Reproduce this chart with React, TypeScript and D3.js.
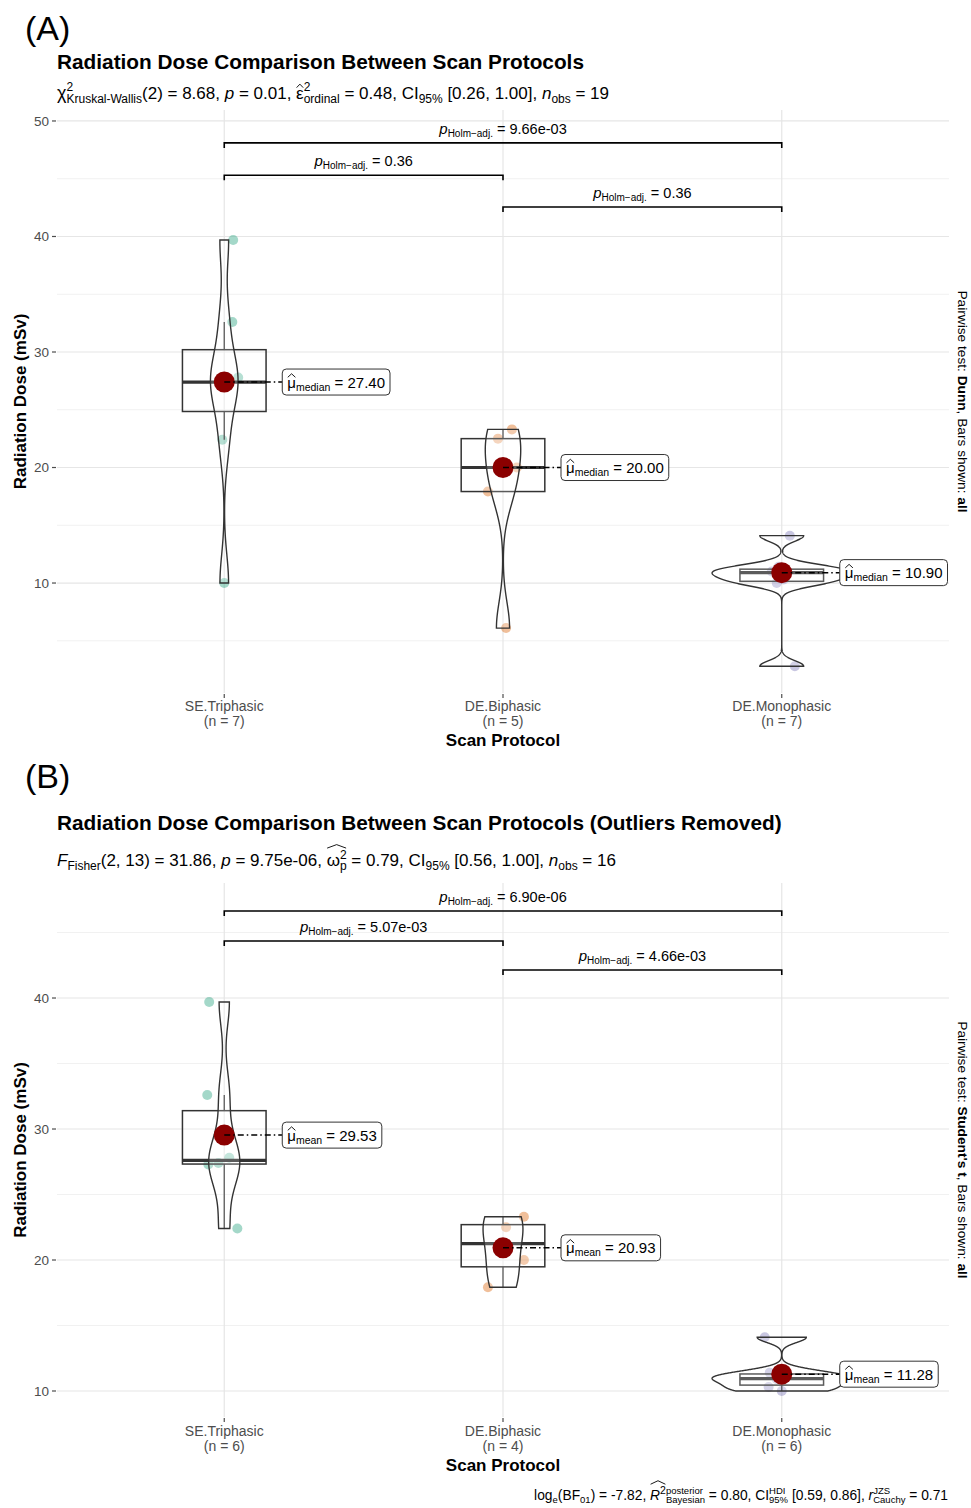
import { useEffect, useRef } from "react";
import * as d3 from "d3";

const FONT = '"Liberation Sans", Arial, Helvetica, sans-serif';

const categories = ["SE.Triphasic", "DE.Biphasic", "DE.Monophasic"];
const pointColors = ["#1B9E77", "#D95F02", "#7570B3"];

// (A) all scans, radiation dose in mSv
const seTriphasicA = [10.0, 22.4, 27.3, 27.4, 27.8, 32.6, 39.7];
const deBiphasicA = [6.1, 17.92, 20.0, 22.5, 23.3];
const deMonophasicA = [2.8, 10.0, 10.3, 10.9, 11.0, 11.4, 14.1];
// jitter of each point, as a fraction of the category spacing
const seJitterA = [0, -0.007, -0.014, 0.011, 0.05, 0.029, 0.032];
const biJitterA = [0.011, -0.054, 0.05, -0.018, 0.032];
const monoJitterA = [0.047, -0.018, 0.007, 0.021, -0.036, -0.011, 0.029];

// (B) outliers removed
const seTriphasicB = [22.4, 27.3, 27.4, 27.8, 32.6, 39.7];
const deBiphasicB = [17.92, 20.0, 22.5, 23.3];
const deMonophasicB = [10.0, 10.3, 10.9, 11.0, 11.4, 14.1];
const seJitterB = [0.047, -0.057, -0.021, 0.018, -0.061, -0.054];
const biJitterB = [-0.054, 0.075, 0.011, 0.075];
const monoJitterB = [0, -0.047, -0.018, 0.014, -0.043, -0.061];

const yTicksA = [10, 20, 30, 40, 50];
const yMinorA = [5, 15, 25, 35, 45];
const yTicksB = [10, 20, 30, 40];
const yMinorB = [15, 25, 35, 45];

// pairwise comparisons: category indices, bracket height (mSv), adjusted p
const pairsA = [
  { from: 0, to: 1, y: 45.3, p: "0.36" },
  { from: 1, to: 2, y: 42.55, p: "0.36" },
  { from: 0, to: 2, y: 48.1, p: "9.66e-03" },
];
const pairsB = [
  { from: 0, to: 1, y: 44.35, p: "5.07e-03" },
  { from: 1, to: 2, y: 42.14, p: "4.66e-03" },
  { from: 0, to: 2, y: 46.64, p: "6.90e-06" },
];

type Part = {
  t: string;
  size: number;
  dy?: number;
  italic?: boolean;
  bold?: boolean;
  stack?: boolean;
  hatStart?: boolean;
  hatEnd?: boolean;
  lower?: boolean;
};

type Sel = d3.Selection<any, unknown, null, undefined>;

// lays out a line of mixed-size text, returns the group and its width
function rich(
  parent: Sel,
  x: number,
  y: number,
  parts: Part[],
  anchor: "start" | "middle" | "end" = "start",
  rotate = 0,
  color = "#000",
) {
  const g = parent
    .append("g")
    .attr("transform", `translate(${x},${y}) rotate(${rotate})`);
  const inner = g.append("g");
  let cursor = 0;
  let lastStart = 0;
  let hatX0 = 0;
  let hatTop = 0;
  parts.forEach((p) => {
    const px = p.stack ? lastStart : cursor;
    const node = inner
      .append("text")
      .attr("x", px)
      .attr("y", p.dy ?? 0)
      .attr("font-family", FONT)
      .attr("font-size", p.size)
      .attr("font-style", p.italic ? "italic" : null)
      .attr("font-weight", p.bold ? "bold" : null)
      .attr("fill", color)
      .style("white-space", "pre")
      .text(p.t);
    const w = (node.node() as SVGTextElement).getComputedTextLength();
    if (p.stack) cursor = Math.max(cursor, lastStart + w);
    else {
      lastStart = px;
      cursor = px + w;
    }
    const top = (p.dy ?? 0) - p.size * (p.lower ? 0.55 : 0.74);
    if (p.hatStart) {
      hatX0 = px;
      hatTop = top;
    } else {
      hatTop = Math.min(hatTop, top);
    }
    if (p.hatEnd) {
      const t = hatTop - 2;
      inner
        .append("path")
        .attr(
          "d",
          `M${hatX0 + 0.5},${t} L${(hatX0 + cursor) / 2},${t - 3.5} L${cursor - 0.5},${t}`,
        )
        .attr("fill", "none")
        .attr("stroke", color)
        .attr("stroke-width", 0.9);
    }
  });
  const shift = anchor === "middle" ? -cursor / 2 : anchor === "end" ? -cursor : 0;
  inner.attr("transform", `translate(${shift},0)`);
  return { g, width: cursor };
}

function nrd0(v: number[]) {
  const s = d3.deviation(v) ?? 0;
  const iqr = (d3.quantile(v, 0.75) ?? 0) - (d3.quantile(v, 0.25) ?? 0);
  let lo = Math.min(s, iqr / 1.34);
  if (!(lo > 0)) lo = s || 1;
  return 0.9 * lo * Math.pow(v.length, -0.2);
}

function kde(v: number[], n = 512): [number, number][] {
  const bw = nrd0(v);
  const [a, b] = d3.extent(v) as [number, number];
  return d3.range(n).map((i) => {
    const t = a + ((b - a) * i) / (n - 1);
    const d =
      d3.mean(v, (x) => Math.exp(-0.5 * ((t - x) / bw) ** 2) / (bw * Math.sqrt(2 * Math.PI))) ?? 0;
    return [t, d];
  });
}

type PanelCfg = {
  groups: number[][];
  jitters: number[][];
  top: number;
  bottom: number;
  yDomain: [number, number];
  ticks: number[];
  minor: number[];
  pairs: { from: number; to: number; y: number; p: string }[];
  stat: "median" | "mean";
  tag: string;
  tagY: number;
  title: string;
  titleY: number;
  subtitle: Part[];
  subtitleY: number;
  pairwise: Part[];
  xLabelY: number;
};

const LEFT = 57;
const RIGHT = 949;

function drawPanel(svg: Sel, cfg: PanelCfg) {
  const x = d3.scalePoint<string>().domain(categories).range([LEFT, RIGHT]).padding(0.6);
  const step = x.step();
  const y = d3.scaleLinear().domain(cfg.yDomain).range([cfg.bottom, cfg.top]);

  svg
    .append("text")
    .attr("x", 25)
    .attr("y", cfg.tagY)
    .attr("font-family", FONT)
    .attr("font-size", 34)
    .text(cfg.tag);
  svg
    .append("text")
    .attr("x", LEFT)
    .attr("y", cfg.titleY)
    .attr("font-family", FONT)
    .attr("font-size", 20.8)
    .attr("font-weight", "bold")
    .text(cfg.title);
  rich(svg, LEFT, cfg.subtitleY, cfg.subtitle);

  const grid = svg.append("g");
  grid
    .selectAll("line.minor")
    .data(cfg.minor)
    .join("line")
    .attr("x1", LEFT)
    .attr("x2", RIGHT)
    .attr("y1", (d) => y(d))
    .attr("y2", (d) => y(d))
    .attr("stroke", "#F1F1F1")
    .attr("stroke-width", 1);
  grid
    .selectAll("line.major")
    .data(cfg.ticks)
    .join("line")
    .attr("x1", LEFT)
    .attr("x2", RIGHT)
    .attr("y1", (d) => y(d))
    .attr("y2", (d) => y(d))
    .attr("stroke", "#E6E6E6")
    .attr("stroke-width", 1.2);
  grid
    .selectAll("line.vert")
    .data(categories)
    .join("line")
    .attr("x1", (d) => x(d)!)
    .attr("x2", (d) => x(d)!)
    .attr("y1", cfg.top)
    .attr("y2", cfg.bottom)
    .attr("stroke", "#E6E6E6")
    .attr("stroke-width", 1.2);

  // y axis
  const yAxis = svg.append("g");
  cfg.ticks.forEach((t) => {
    yAxis
      .append("line")
      .attr("x1", LEFT - 5)
      .attr("x2", LEFT - 1)
      .attr("y1", y(t))
      .attr("y2", y(t))
      .attr("stroke", "#4D4D4D")
      .attr("stroke-width", 1.2);
    yAxis
      .append("text")
      .attr("x", LEFT - 8)
      .attr("y", y(t))
      .attr("dy", "0.35em")
      .attr("text-anchor", "end")
      .attr("font-family", FONT)
      .attr("font-size", 13.5)
      .attr("fill", "#4D4D4D")
      .text(t);
  });
  svg
    .append("text")
    .attr("transform", `translate(26,${(cfg.top + cfg.bottom) / 2}) rotate(-90)`)
    .attr("text-anchor", "middle")
    .attr("font-family", FONT)
    .attr("font-size", 17)
    .attr("font-weight", "bold")
    .text("Radiation Dose (mSv)");

  // x axis
  categories.forEach((c, i) => {
    const cx = x(c)!;
    svg
      .append("line")
      .attr("x1", cx)
      .attr("x2", cx)
      .attr("y1", cfg.bottom + 1)
      .attr("y2", cfg.bottom + 5)
      .attr("stroke", "#4D4D4D")
      .attr("stroke-width", 1.2);
    svg
      .append("text")
      .attr("x", cx)
      .attr("y", cfg.xLabelY)
      .attr("text-anchor", "middle")
      .attr("font-family", FONT)
      .attr("font-size", 14)
      .attr("fill", "#4D4D4D")
      .text(c);
    svg
      .append("text")
      .attr("x", cx)
      .attr("y", cfg.xLabelY + 15)
      .attr("text-anchor", "middle")
      .attr("font-family", FONT)
      .attr("font-size", 14)
      .attr("fill", "#4D4D4D")
      .text(`(n = ${cfg.groups[i].length})`);
  });
  svg
    .append("text")
    .attr("x", (LEFT + RIGHT) / 2)
    .attr("y", cfg.xLabelY + 35)
    .attr("text-anchor", "middle")
    .attr("font-family", FONT)
    .attr("font-size", 17)
    .attr("font-weight", "bold")
    .text("Scan Protocol");

  rich(svg, 958, (cfg.top + cfg.bottom) / 2, cfg.pairwise, "middle", 90);

  const plot = svg.append("g");

  // jittered points
  cfg.groups.forEach((vals, i) => {
    const cx = x(categories[i])!;
    plot
      .append("g")
      .selectAll("circle")
      .data(vals)
      .join("circle")
      .attr("cx", (_, j) => cx + cfg.jitters[i][j] * step)
      .attr("cy", (d) => y(d))
      .attr("r", 5)
      .attr("fill", pointColors[i])
      .attr("fill-opacity", 0.4);
  });

  // boxplots
  const boxHalf = 0.15 * step;
  cfg.groups.forEach((vals, i) => {
    const cx = x(categories[i])!;
    const q1 = d3.quantile(vals, 0.25)!;
    const q2 = d3.quantile(vals, 0.5)!;
    const q3 = d3.quantile(vals, 0.75)!;
    const iqr = q3 - q1;
    const lo = d3.min(vals.filter((v) => v >= q1 - 1.5 * iqr))!;
    const hi = d3.max(vals.filter((v) => v <= q3 + 1.5 * iqr))!;
    const b = plot.append("g").attr("stroke", "#333333");
    b.append("line").attr("x1", cx).attr("x2", cx).attr("y1", y(q3)).attr("y2", y(hi)).attr("stroke-width", 1.3);
    b.append("line").attr("x1", cx).attr("x2", cx).attr("y1", y(q1)).attr("y2", y(lo)).attr("stroke-width", 1.3);
    b.append("rect")
      .attr("x", cx - boxHalf)
      .attr("y", y(q3))
      .attr("width", boxHalf * 2)
      .attr("height", y(q1) - y(q3))
      .attr("fill", "#FFFFFF")
      .attr("fill-opacity", 0.2)
      .attr("stroke-width", 1.5);
    b.append("line")
      .attr("x1", cx - boxHalf)
      .attr("x2", cx + boxHalf)
      .attr("y1", y(q2))
      .attr("y2", y(q2))
      .attr("stroke-width", 3.2);
  });

  // violins, scaled by area across the panel
  const dens = cfg.groups.map((v) => kde(v));
  const maxD = d3.max(dens.flat(), (d) => d[1])!;
  const vHalf = 0.25 * step;
  dens.forEach((dd, i) => {
    const cx = x(categories[i])!;
    const right = dd.map(([t, d]) => [cx + (d / maxD) * vHalf, y(t)] as [number, number]);
    const left = dd
      .slice()
      .reverse()
      .map(([t, d]) => [cx - (d / maxD) * vHalf, y(t)] as [number, number]);
    plot
      .append("path")
      .attr("d", d3.line()([...right, ...left]) + "Z")
      .attr("fill", "#FFFFFF")
      .attr("fill-opacity", 0.2)
      .attr("stroke", "#333333")
      .attr("stroke-width", 1.4);
  });

  // significance brackets
  cfg.pairs.forEach((pr) => {
    const x1 = x(categories[pr.from])!;
    const x2 = x(categories[pr.to])!;
    const yy = y(pr.y);
    plot
      .append("path")
      .attr("d", `M${x1},${yy + 5} V${yy} H${x2} V${yy + 5}`)
      .attr("fill", "none")
      .attr("stroke", "#000")
      .attr("stroke-width", 1.6);
    rich(
      plot,
      (x1 + x2) / 2,
      yy - 9,
      [
        { t: "p", size: 15, italic: true },
        { t: "Holm\u2212adj.", size: 10, dy: 3 },
        { t: ` = ${pr.p}`, size: 14.5 },
      ],
      "middle",
    );
  });

  // centrality points and labels
  const fmt = d3.format(".2f");
  cfg.groups.forEach((vals, i) => {
    const cx = x(categories[i])!;
    const v = cfg.stat === "median" ? d3.median(vals)! : d3.mean(vals)!;
    const cy = y(v);
    const lx = cx + 58;
    plot.append("circle").attr("cx", cx).attr("cy", cy).attr("r", 10.5).attr("fill", "#8B0000");
    plot
      .append("line")
      .attr("x1", cx)
      .attr("x2", lx)
      .attr("y1", cy)
      .attr("y2", cy)
      .attr("stroke", "#000")
      .attr("stroke-width", 1.5)
      .attr("stroke-dasharray", "6,3,1.5,3");
    const lab = plot.append("g");
    const rect = lab
      .append("rect")
      .attr("x", lx)
      .attr("y", cy - 13)
      .attr("height", 26)
      .attr("rx", 4)
      .attr("fill", "#FFFFFF")
      .attr("stroke", "#333333")
      .attr("stroke-width", 1);
    const r = rich(lab, lx + 5, cy + 5.5, [
      { t: "\u03bc", size: 15, hatStart: true, hatEnd: true, lower: true },
      { t: cfg.stat, size: 10.5, dy: 3 },
      { t: ` = ${fmt(v)}`, size: 15 },
    ]);
    rect.attr("width", r.width + 10);
  });
}

export default function App() {
  const ref = useRef<SVGSVGElement>(null);

  useEffect(() => {
    const svg = d3.select(ref.current!) as unknown as Sel;
    svg.selectAll("*").remove();
    svg.append("rect").attr("width", 971).attr("height", 1508).attr("fill", "#FFFFFF");

    drawPanel(svg, {
      groups: [seTriphasicA, deBiphasicA, deMonophasicA],
      jitters: [seJitterA, biJitterA, monoJitterA],
      top: 110,
      bottom: 693,
      yDomain: [0.48, 50.95],
      ticks: yTicksA,
      minor: yMinorA,
      pairs: pairsA,
      stat: "median",
      tag: "(A)",
      tagY: 40,
      title: "Radiation Dose Comparison Between Scan Protocols",
      titleY: 69,
      subtitle: [
        { t: "\u03c7", size: 18 },
        { t: "2", size: 12, dy: -8 },
        { t: "Kruskal-Wallis", size: 12, dy: 4, stack: true },
        { t: "(2) = 8.68, ", size: 17 },
        { t: "p", size: 17, italic: true },
        { t: " = 0.01, ", size: 17 },
        { t: "\u03b5", size: 17, hatStart: true, hatEnd: true, lower: true },
        { t: "2", size: 12, dy: -8 },
        { t: "ordinal", size: 12, dy: 4, stack: true },
        { t: " = 0.48, CI", size: 17 },
        { t: "95%", size: 12, dy: 4 },
        { t: " [0.26, 1.00], ", size: 17 },
        { t: "n", size: 17, italic: true },
        { t: "obs", size: 12, dy: 4 },
        { t: " = 19", size: 17 },
      ],
      subtitleY: 99,
      pairwise: [
        { t: "Pairwise test: ", size: 13.7 },
        { t: "Dunn", size: 13.7, bold: true },
        { t: ", Bars shown: ", size: 13.7 },
        { t: "all", size: 13.7, bold: true },
      ],
      xLabelY: 711,
    });

    drawPanel(svg, {
      groups: [seTriphasicB, deBiphasicB, deMonophasicB],
      jitters: [seJitterB, biJitterB, monoJitterB],
      top: 883,
      bottom: 1417,
      yDomain: [8.015, 48.78],
      ticks: yTicksB,
      minor: yMinorB,
      pairs: pairsB,
      stat: "mean",
      tag: "(B)",
      tagY: 788,
      title: "Radiation Dose Comparison Between Scan Protocols (Outliers Removed)",
      titleY: 830,
      subtitle: [
        { t: "F", size: 17, italic: true },
        { t: "Fisher", size: 12, dy: 4 },
        { t: "(2, 13) = 31.86, ", size: 17 },
        { t: "p", size: 17, italic: true },
        { t: " = 9.75e-06, ", size: 17 },
        { t: "\u03c9", size: 17, hatStart: true, lower: true },
        { t: "2", size: 12, dy: -7 },
        { t: "p", size: 12, dy: 4, stack: true, hatEnd: true },
        { t: " = 0.79, CI", size: 17 },
        { t: "95%", size: 12, dy: 4 },
        { t: " [0.56, 1.00], ", size: 17 },
        { t: "n", size: 17, italic: true },
        { t: "obs", size: 12, dy: 4 },
        { t: " = 16", size: 17 },
      ],
      subtitleY: 866,
      pairwise: [
        { t: "Pairwise test: ", size: 13.7 },
        { t: "Student's t", size: 13.7, bold: true },
        { t: ", Bars shown: ", size: 13.7 },
        { t: "all", size: 13.7, bold: true },
      ],
      xLabelY: 1436,
    });

    rich(
      svg,
      948,
      1500,
      [
        { t: "log", size: 13.8 },
        { t: "e", size: 9.5, dy: 3 },
        { t: "(BF", size: 13.8 },
        { t: "01", size: 9.5, dy: 3 },
        { t: ") = -7.82, ", size: 13.8 },
        { t: "R", size: 13.8, italic: true, hatStart: true },
        { t: "2", size: 10.5, dy: -6, hatEnd: true },
        { t: "posterior", size: 9.5, dy: -6 },
        { t: "Bayesian", size: 9.5, dy: 3, stack: true },
        { t: " = 0.80, CI", size: 13.8 },
        { t: "HDI", size: 9.5, dy: -6 },
        { t: "95%", size: 9.5, dy: 3, stack: true },
        { t: " [0.59, 0.86], ", size: 13.8 },
        { t: "r", size: 13.8, italic: true },
        { t: "JZS", size: 9.5, dy: -6 },
        { t: "Cauchy", size: 9.5, dy: 3, stack: true },
        { t: " = 0.71", size: 13.8 },
      ],
      "end",
    );
  }, []);

  return (
    <svg
      ref={ref}
      width={971}
      height={1508}
      style={{ position: "absolute", left: 0, top: 0, display: "block" }}
    />
  );
}
